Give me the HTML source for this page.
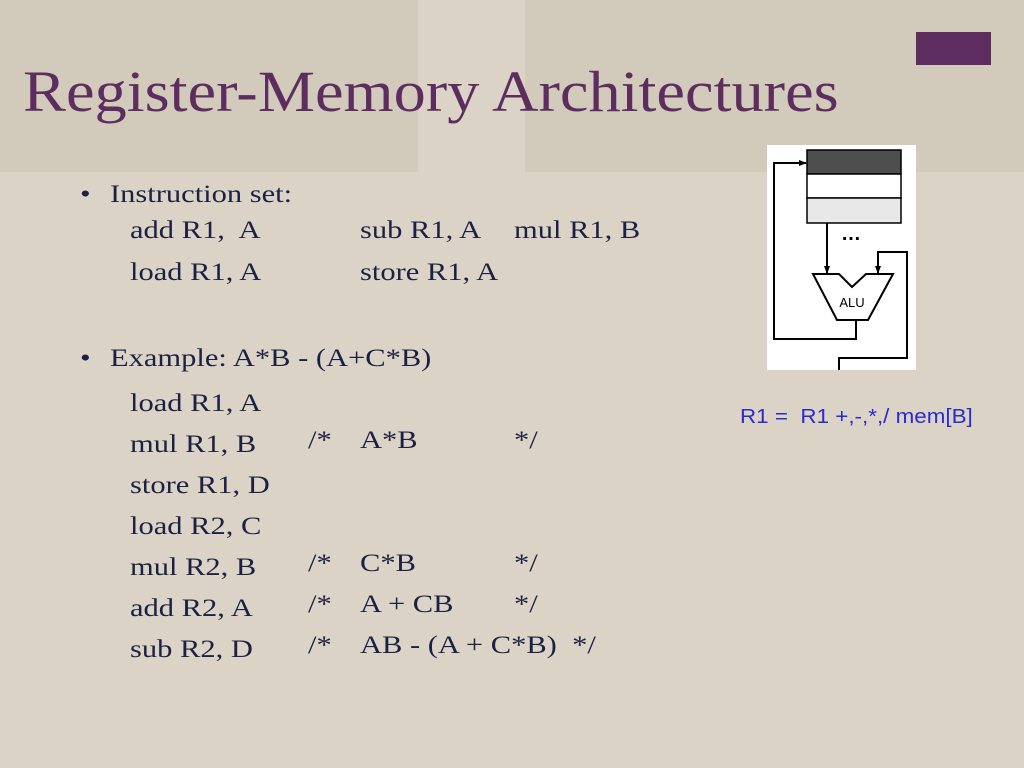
<!DOCTYPE html>
<html><head><style>
body{margin:0;width:1024px;height:768px;overflow:hidden;background:#dbd4c6;position:relative;font-family:"Liberation Serif",serif;}
.p{position:absolute;background:#d2cabb;}
.t{position:absolute;white-space:nowrap;color:#1c2044;font-size:25px;transform:scaleX(1.22);transform-origin:0 0;}
</style></head><body>
<div class="p" style="left:0;top:0;width:418px;height:172px"></div>
<div class="p" style="left:525px;top:0;width:499px;height:172px"></div>
<div style="position:absolute;left:916px;top:32px;width:75px;height:33px;background:#5e2d5f"></div>
<div class="t" style="left:23px;top:58px;font-size:58px;color:#5e2d5f;transform:scaleX(1.11)">Register-Memory Architectures</div>
<div class="t" style="left:80px;top:181px">•</div>
<div class="t" style="left:110px;top:181px">Instruction set:</div>
<div class="t" style="left:130px;top:217px">add R1,&nbsp; A</div>
<div class="t" style="left:360px;top:217px">sub R1, A</div>
<div class="t" style="left:514px;top:217px">mul R1, B</div>
<div class="t" style="left:130px;top:259px">load R1, A</div>
<div class="t" style="left:360px;top:259px">store R1, A</div>
<div class="t" style="left:80px;top:345px">•</div>
<div class="t" style="left:110px;top:345px">Example: A*B - (A+C*B)</div>
<div class="t" style="left:130px;top:390px">load R1, A</div>
<div class="t" style="left:130px;top:431px">mul R1, B</div>
<div class="t" style="left:130px;top:472px">store R1, D</div>
<div class="t" style="left:130px;top:513px">load R2, C</div>
<div class="t" style="left:130px;top:554px">mul R2, B</div>
<div class="t" style="left:130px;top:595px">add R2, A</div>
<div class="t" style="left:130px;top:636px">sub R2, D</div>
<div class="t" style="left:308px;top:427px">/*</div><div class="t" style="left:360px;top:427px">A*B</div><div class="t" style="left:514px;top:427px">*/</div>
<div class="t" style="left:308px;top:550px">/*</div><div class="t" style="left:360px;top:550px">C*B</div><div class="t" style="left:514px;top:550px">*/</div>
<div class="t" style="left:308px;top:591px">/*</div><div class="t" style="left:360px;top:591px">A + CB</div><div class="t" style="left:514px;top:591px">*/</div>
<div class="t" style="left:308px;top:632px">/*</div><div class="t" style="left:360px;top:632px">AB - (A + C*B)&nbsp; */</div>
<div class="t" style="left:740px;top:406px;font-family:'Liberation Sans',sans-serif;font-size:20px;color:#2b2bd0;transform:scaleX(1.12)">R1 =&nbsp; R1 +,-,*,/ mem[B]</div>
<svg style="position:absolute;left:0;top:0" width="1024" height="768">
<defs><marker id="a" markerWidth="8" markerHeight="8" refX="7" refY="4" orient="auto" markerUnits="userSpaceOnUse"><path d="M0,1 L8,4 L0,7z" fill="#000"/></marker></defs>
<rect x="767" y="145" width="149" height="225" fill="#fff"/>
<rect x="807" y="150" width="94" height="24" fill="#4e4e4e" stroke="#000" stroke-width="1.5"/>
<rect x="807" y="174" width="94" height="24" fill="#fff" stroke="#000" stroke-width="1.5"/>
<rect x="807" y="198" width="94" height="25" fill="#e8e8e8" stroke="#000" stroke-width="1.5"/>
<text x="841" y="240" font-family="Liberation Sans" font-size="20" font-weight="bold">…</text>
<polygon points="813,274 839,274 852,287 866,274 893,274 868,320 837,320" fill="#fff" stroke="#000" stroke-width="2"/>
<text x="852" y="307" font-family="Liberation Sans" font-size="13" text-anchor="middle">ALU</text>
<g fill="none" stroke="#000" stroke-width="2">
<line x1="827" y1="223" x2="827" y2="273" marker-end="url(#a)"/>
<polyline points="856,320 856,339 774,339 774,163 806,163" marker-end="url(#a)"/>
<polyline points="839,370 839,358 907,358 907,252 878,252 878,273" marker-end="url(#a)"/>
</g>
</svg>
</body></html>
